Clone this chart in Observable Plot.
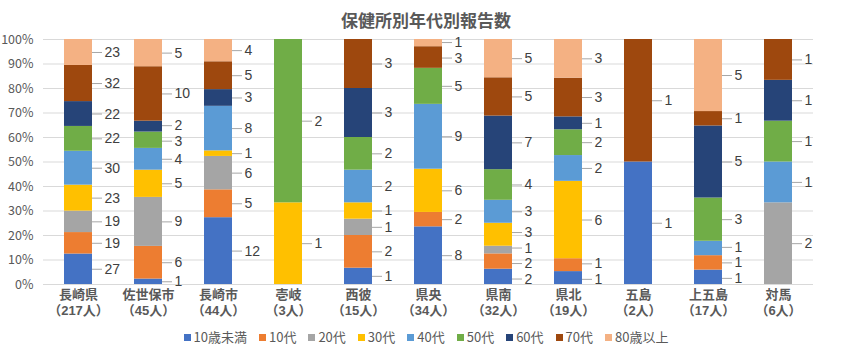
<!DOCTYPE html>
<html>
<head>
<meta charset="utf-8">
<script src="https://cdn.jsdelivr.net/npm/d3@7"></script>
<script src="https://cdn.jsdelivr.net/npm/@observablehq/plot@0.6"></script>
<style>
  html, body { margin: 0; padding: 0; background: #fff; }
  body { width: 849px; height: 356px; position: relative; overflow: hidden;
         font-family: "Noto Sans CJK JP", "Noto Sans", sans-serif; }
  #title { position: absolute; top: 8px; left: 0; width: 852px; text-align: center;
           font-size: 17px; font-weight: bold; color: #595959; line-height: 24px; }
  #chart { position: absolute; top: 0; left: 0; }
  #legend { position: absolute; top: 327px; left: 0; width: 852px; display: flex;
            justify-content: center; gap: 12px; font-size: 13px; color: #595959; line-height: 20px; }
  .item { display: flex; align-items: center; }
  .sw { width: 7px; height: 7px; margin-right: 3px; }
</style>
</head>
<body>
<div id="title">保健所別年代別報告数</div>
<div id="chart"></div>
<div id="legend"></div>
<script>
const regions = ["長崎県", "佐世保市", "長崎市", "壱岐", "西彼", "県央", "県南", "県北", "五島", "上五島", "対馬"];
const totals  = [217, 45, 44, 3, 15, 34, 32, 19, 2, 17, 6];
const ages    = ["10歳未満", "10代", "20代", "30代", "40代", "50代", "60代", "70代", "80歳以上"];
const colors  = ["#4472C4", "#ED7D31", "#A5A5A5", "#FFC000", "#5B9BD5", "#70AD47", "#264478", "#9E480E", "#F4B183"];

// counts per region, in age order (10歳未満 ... 80歳以上)
const v_nagasakiken = [27, 19, 19, 23, 30, 22, 22, 32, 23];
const v_sasebo      = [1, 6, 9, 5, 4, 3, 2, 10, 5];
const v_nagasakishi = [12, 5, 6, 1, 8, 0, 3, 5, 4];
const v_iki         = [0, 0, 0, 1, 0, 2, 0, 0, 0];
const v_seihi       = [1, 2, 1, 1, 2, 2, 3, 3, 0];
const v_kenou       = [8, 2, 0, 6, 9, 5, 0, 3, 1];
const v_kennan      = [2, 2, 1, 3, 3, 4, 7, 5, 5];
const v_kenhoku     = [1, 1, 0, 6, 2, 2, 1, 3, 3];
const v_goto        = [1, 0, 0, 0, 0, 0, 0, 1, 0];
const v_kamigoto    = [1, 1, 0, 0, 1, 3, 5, 1, 5];
const v_tsushima    = [0, 0, 2, 0, 1, 1, 1, 1, 0];

const series = [v_nagasakiken, v_sasebo, v_nagasakishi, v_iki, v_seihi, v_kenou,
                v_kennan, v_kenhoku, v_goto, v_kamigoto, v_tsushima];

const H = 325, MT = 39, MB = 41;
const plotH = H - MT - MB;
const minGap = 15.5 / plotH; // minimum label spacing, as share of the axis

const data = [];
const labels = [];
regions.forEach((r, i) => {
  const vals = series[i];
  const tot = d3.sum(vals);
  let cum = 0;
  const col = [];
  ages.forEach((a, j) => {
    const v = vals[j];
    if (v > 0) {
      data.push({region: r, age: a, value: v});
      col.push({region: r, age: a, value: v, ly: (cum + v / 2) / tot});
    }
    cum += v;
  });
  // spread labels that would overlap (like the spreadsheet's label placement)
  for (let it = 0; it < 80; it++) {
    for (let k = 1; k < col.length; k++) {
      const d = col[k].ly - col[k - 1].ly;
      if (d < minGap) {
        const push = (minGap - d) / 2;
        col[k].ly += push;
        col[k - 1].ly -= push;
      }
    }
    col.forEach(c => { c.ly = Math.max(-0.01, Math.min(1.0, c.ly)); });
  }
  labels.push(...col);
});

const nameOf = r => r;
const countOf = r => "（" + totals[regions.indexOf(r)] + "人）";
const font = "Noto Sans CJK JP";

const chart = Plot.plot({
  width: 849,
  height: H,
  marginLeft: 43,
  marginRight: 36,
  marginTop: MT,
  marginBottom: MB,
  style: { fontFamily: font, background: "transparent" },
  x: { domain: regions, paddingInner: 0.6, paddingOuter: 0.3, axis: null },
  y: { domain: [0, 1], axis: null },
  color: { domain: ages, range: colors },
  marks: [
    Plot.gridY(d3.range(0, 1.0001, 0.1), { stroke: "#d9d9d9", strokeOpacity: 1 }),
    Plot.axisY(d3.range(0, 1.0001, 0.1), {
      tickSize: 0, tickPadding: 10, tickFormat: d3.format(".0%"),
      fontSize: 12.5, fill: "#595959", label: null
    }),
    Plot.barY(data, Plot.stackY({ offset: "normalize", x: "region", y: "value", fill: "age" })),
    Plot.tickY(labels, {
      x: "region", y: "ly", stroke: "#a6a6a6", dx: 28, insetRight: 18
    }),
    Plot.text(labels, {
      x: "region", y: "ly", text: "value",
      textAnchor: "start", dx: 26, fontSize: 14, fill: "#404040",
      fontFamily: "Liberation Sans"
    }),
    Plot.text(regions, {
      x: d => d, frameAnchor: "bottom", dy: 14.5,
      text: nameOf, fontSize: 13, fontWeight: "bold", fill: "#595959",
      fontFamily: "Liberation Sans, Noto Sans CJK JP"
    }),
    Plot.text(regions, {
      x: d => d, frameAnchor: "bottom", dy: 30,
      text: countOf, fontSize: 13, fontWeight: "bold", fill: "#595959",
      fontFamily: "Liberation Sans, Noto Sans CJK JP"
    })
  ]
});
document.getElementById("chart").appendChild(chart);

const legend = document.getElementById("legend");
ages.forEach((a, i) => {
  const it = document.createElement("div");
  it.className = "item";
  const sw = document.createElement("div");
  sw.className = "sw";
  sw.style.background = colors[i];
  const t = document.createElement("span");
  t.textContent = a;
  it.appendChild(sw);
  it.appendChild(t);
  legend.appendChild(it);
});
</script>
</body>
</html>
